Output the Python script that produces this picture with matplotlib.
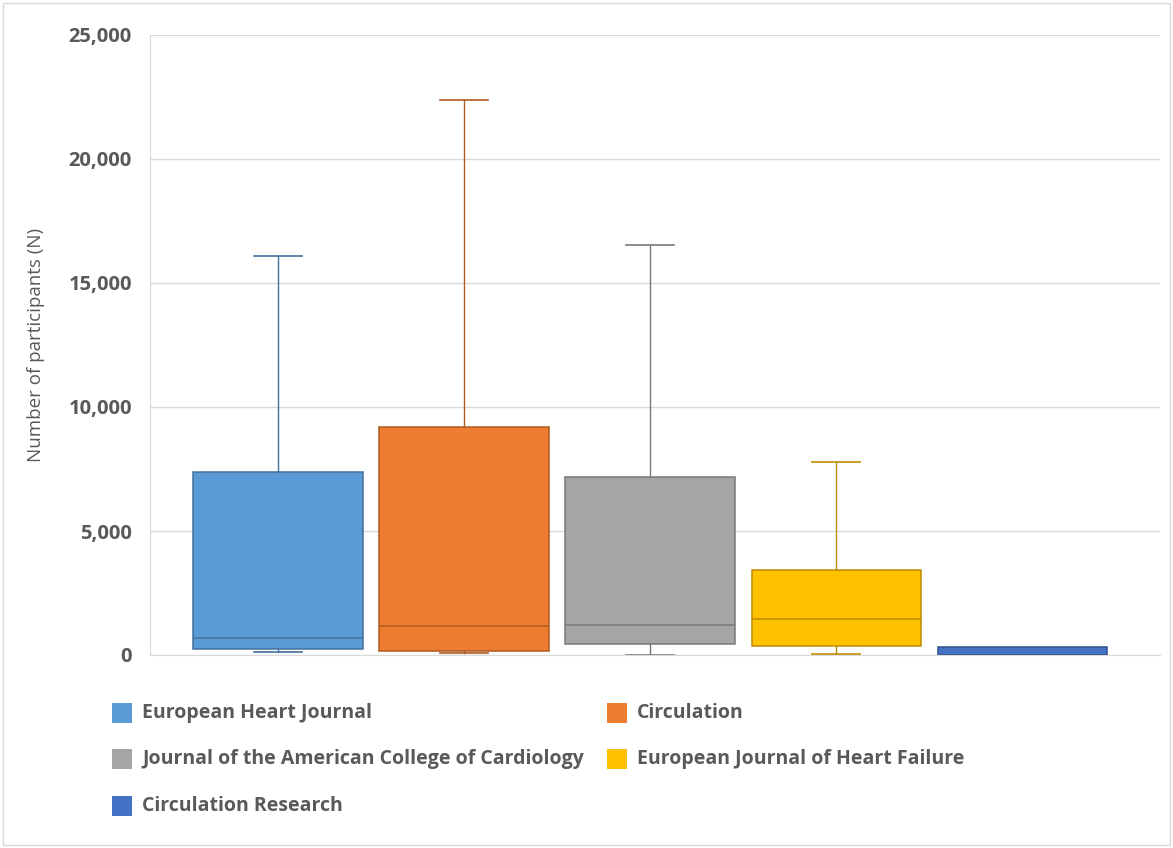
import matplotlib
matplotlib.use("Agg")
import matplotlib.pyplot as plt
from matplotlib.patches import Rectangle
from matplotlib.ticker import FuncFormatter

journals = ["European Heart Journal", "Circulation",
            "Journal of the American College of Cardiology",
            "European Journal of Heart Failure", "Circulation Research"]
whisker_low = [110, 70, 0, 40, 0]
q1 = [240, 175, 440, 375, 0]
median = [700, 1170, 1210, 1450, 0]
q3 = [7380, 9190, 7180, 3430, 320]
whisker_high = [16090, 22380, 16530, 7780, 320]
yticks = [0, 5000, 10000, 15000, 20000, 25000]

face_colors = ["#5B9BD5", "#ED7D31", "#A5A5A5", "#FFC000", "#4472C4"]
edge_colors = ["#41719C", "#AE5A21", "#787878", "#BC8C00", "#2F528F"]

plt.rcParams['font.family'] = ['Open Sans', 'DejaVu Sans']

fig = plt.figure(figsize=(11.73, 8.48), dpi=100)
W, H = 1173, 848
ax = fig.add_axes([150 / W, 1 - 655 / H, (1160 - 150) / W, (655 - 35) / H])

stats = []
for i in range(len(journals)):
    stats.append(dict(whislo=whisker_low[i], q1=q1[i], med=median[i],
                      q3=q3[i], whishi=whisker_high[i], label=journals[i]))

positions = list(range(len(journals)))
bp = ax.bxp(stats, positions=positions, widths=0.91, patch_artist=True,
            showfliers=False, capwidths=0.26)
for i in range(len(journals)):
    bp['boxes'][i].set_facecolor(face_colors[i])
    bp['boxes'][i].set_edgecolor(edge_colors[i])
    bp['boxes'][i].set_linewidth(1.1)
    bp['medians'][i].set_color(edge_colors[i])
    bp['medians'][i].set_linewidth(1.1)
    for w in bp['whiskers'][2 * i:2 * i + 2]:
        w.set_color(edge_colors[i]); w.set_linewidth(1.0)
    for c in bp['caps'][2 * i:2 * i + 2]:
        c.set_color(edge_colors[i]); c.set_linewidth(1.2)
# Circulation Research: no visible whiskers
for w in bp['whiskers'][8:10] + bp['caps'][8:10]:
    w.set_visible(False)

ax.set_xlim(-0.688, 4.74)
ax.set_ylim(0, 25000)
ax.set_yticks(yticks)
ax.yaxis.set_major_formatter(FuncFormatter(lambda v, p: f"{int(v):,}"))
ax.set_xticks([])
ax.grid(axis='y', color='#D9D9D9', linewidth=1)
ax.set_axisbelow(True)
for s in ['top', 'right']:
    ax.spines[s].set_visible(False)
ax.spines['left'].set_color('#D9D9D9')
ax.spines['bottom'].set_color('#D9D9D9')
ax.tick_params(axis='y', length=0, pad=13, labelsize=14.5, labelcolor='#595959')
for lab in ax.get_yticklabels():
    lab.set_fontweight('bold')
ax.set_ylabel("Number of participants (N)", fontsize=13.5, color='#595959', labelpad=17)

# chart border
fig.patches.append(Rectangle((3 / W, 3 / H), 1 - 6 / W, 1 - 6 / H, transform=fig.transFigure,
                             fill=False, edgecolor='#D9D9D9', linewidth=1))

# legend (manual, 2 columns)
col_x = [112, 607]
row_y = [713, 759, 806]
for i, name in enumerate(journals):
    c, r = i % 2, i // 2
    x, y = col_x[c], row_y[r]
    fig.patches.append(Rectangle((x / W, 1 - (y + 10) / H), 20 / W, 20 / H,
                                 transform=fig.transFigure, facecolor=face_colors[i],
                                 edgecolor='none'))
    fig.text((x + 30) / W, 1 - y / H, name, fontsize=14, fontweight='bold',
             color='#595959', va='center', ha='left')

fig.savefig("out.png", dpi=100)
